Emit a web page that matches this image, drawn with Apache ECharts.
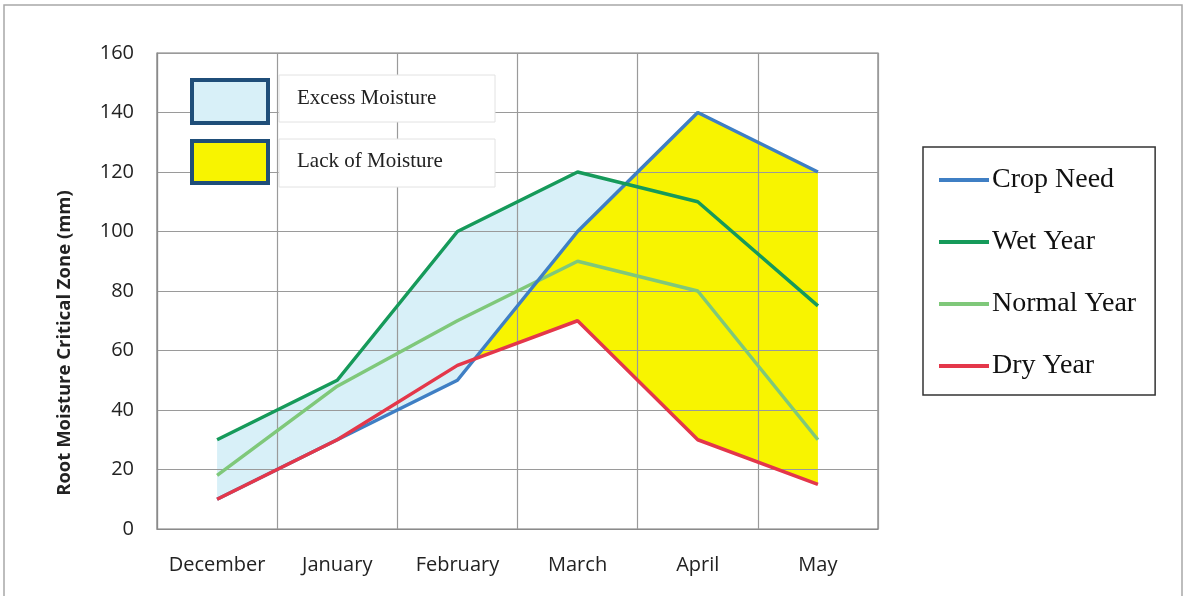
<!DOCTYPE html>
<html>
<head>
<meta charset="utf-8">
<script src="https://cdn.jsdelivr.net/npm/echarts@6/dist/echarts.min.js"></script>
<style>
  html, body { margin: 0; padding: 0; background: #fff; }
  #chart { width: 1187px; height: 596px; }
</style>
</head>
<body>
<div id="chart"></div>
<script>
// Months of the growing season
const months = ['December', 'January', 'February', 'March', 'April', 'May'];

// Root-zone moisture (mm) per month
const cropNeed   = [10, 30, 50, 100, 140, 120];
const wetYear    = [30, 50, 100, 120, 110, 75];
const normalYear = [18, 48, 70, 90, 80, 30];
const dryYear    = [10, 30, 55, 70, 30, 15];

// Y axis scale
const yMin = 0, yMax = 160, yStep = 20;
const yTitle = 'Root Moisture Critical Zone (mm)';

const COLORS = {
  need: '#3f7fc4',
  wet: '#169a5a',
  normal: '#7fc87a',
  dry: '#e4374a',
  excess: '#d8f0f8',
  lack: '#f8f400'
};
const SERIF = '"Liberation Serif", "DejaVu Serif", serif';
const SANS = '"Open Sans", "Noto Sans", "Liberation Sans", sans-serif';

// Polygons of the band where top > bottom, with crossings interpolated in pixel space
function bandPolygons(api, top, bottom) {
  const pt = (i, v) => api.coord([i, v]);
  const polys = [];
  let cur = null;
  for (let i = 0; i < top.length; i++) {
    const d = top[i] - bottom[i];
    if (i > 0) {
      const dp = top[i - 1] - bottom[i - 1];
      if ((dp > 0) !== (d > 0) && dp !== 0 && d !== 0) {
        const t = dp / (dp - d);
        const a = pt(i - 1, top[i - 1]), b = pt(i, top[i]);
        const x = a[0] + t * (b[0] - a[0]);
        const y = a[1] + t * (b[1] - a[1]);
        if (cur) {
          cur.up.push([x, y]); cur.lo.push([x, y]);
          polys.push(cur); cur = null;
        } else {
          cur = { up: [[x, y]], lo: [[x, y]] };
        }
      }
    }
    if (d > 0) {
      if (!cur) cur = { up: [], lo: [] };
      cur.up.push(pt(i, top[i]));
      cur.lo.push(pt(i, bottom[i]));
    }
  }
  if (cur) polys.push(cur);
  return polys.map(c => c.up.concat(c.lo.slice().reverse()));
}

function bandSeries(name, top, bottom, color) {
  return {
    name: name,
    type: 'custom',
    z: 1,
    silent: true,
    data: [[0, 0]],
    renderItem: function (params, api) {
      return {
        type: 'group',
        children: bandPolygons(api, top, bottom).map(p => ({
          type: 'polygon',
          shape: { points: p },
          style: { fill: color }
        }))
      };
    }
  };
}

function lineSeries(name, data, color) {
  return {
    name: name,
    type: 'line',
    z: 4,
    data: data,
    symbol: 'none',
    lineStyle: { color: color, width: 3.5 },
    itemStyle: { color: color },
    emphasis: { disabled: true }
  };
}

const chart = echarts.init(document.getElementById('chart'), null, { renderer: 'canvas' });

chart.setOption({
  animation: false,
  backgroundColor: '#fff',
  grid: {
    left: 157, right: 309, top: 53, bottom: 67,
    show: true, borderColor: '#7a7a7a', borderWidth: 1.2
  },
  xAxis: {
    type: 'category',
    data: months,
    boundaryGap: true,
    z: 2,
    axisLine: { show: true, lineStyle: { color: '#8a8a8a', width: 1.2 } },
    axisTick: { show: false, interval: 0 },
    splitLine: { show: true, interval: 0, lineStyle: { color: '#9a9a9a', width: 1.2 } },
    axisLabel: { interval: 0, hideOverlap: false, color: '#222', fontFamily: SANS, fontSize: 20, margin: 26 }
  },
  yAxis: {
    type: 'value',
    min: yMin, max: yMax, interval: yStep,
    z: 2,
    axisLine: { show: true, lineStyle: { color: '#8a8a8a', width: 1.2 } },
    axisTick: { show: false },
    splitLine: { show: true, lineStyle: { color: '#9a9a9a', width: 1.2 } },
    axisLabel: { color: '#222', fontFamily: SANS, fontSize: 20, margin: 23 }
  },
  legend: {
    data: ['Crop Need', 'Wet Year', 'Normal Year', 'Dry Year'],
    orient: 'vertical',
    left: 923, top: 147,
    padding: [18, 19, 14, 16],
    itemGap: 32,
    itemWidth: 50,
    itemHeight: 4,
    icon: 'rect',
    borderColor: '#333',
    borderWidth: 1.5,
    textStyle: { color: '#111', fontFamily: SERIF, fontSize: 28, lineHeight: 30, padding: [0, 0, 0, -2] }
  },
  graphic: [
    { type: 'rect', silent: true, shape: { x: 4, y: 5, width: 1178, height: 640 },
      style: { fill: 'none', stroke: '#a8a8a8', lineWidth: 1.5 }, z: 0 },
    // Y axis title, set low beside the axis
    { type: 'text', x: 65, y: 343, rotation: Math.PI / 2, z: 11,
      style: { text: yTitle, fill: '#222', font: 'bold 18.5px ' + SANS,
               textAlign: 'center', textVerticalAlign: 'middle' } },
    // Area key, upper left of the plot
    { type: 'rect', shape: { x: 192, y: 80, width: 76, height: 43 },
      style: { fill: COLORS.excess, stroke: '#1f4e79', lineWidth: 4 }, z: 10 },
    { type: 'rect', shape: { x: 192, y: 141, width: 76, height: 42 },
      style: { fill: COLORS.lack, stroke: '#1f4e79', lineWidth: 4 }, z: 10 },
    { type: 'rect', shape: { x: 279, y: 75, width: 216, height: 47 },
      style: { fill: '#fff', stroke: '#e2e2e2', lineWidth: 1 }, z: 10 },
    { type: 'rect', shape: { x: 279, y: 139, width: 216, height: 48 },
      style: { fill: '#fff', stroke: '#e2e2e2', lineWidth: 1 }, z: 10 },
    { type: 'text', x: 297, y: 98, z: 11,
      style: { text: 'Excess Moisture', fill: '#222', font: '21px ' + SERIF, textVerticalAlign: 'middle' } },
    { type: 'text', x: 297, y: 161, z: 11,
      style: { text: 'Lack of Moisture', fill: '#222', font: '21px ' + SERIF, textVerticalAlign: 'middle' } }
  ],
  series: [
    bandSeries('Excess Moisture', wetYear, cropNeed, COLORS.excess),
    bandSeries('Lack of Moisture', cropNeed, dryYear, COLORS.lack),
    lineSeries('Normal Year', normalYear, COLORS.normal),
    lineSeries('Crop Need', cropNeed, COLORS.need),
    lineSeries('Wet Year', wetYear, COLORS.wet),
    lineSeries('Dry Year', dryYear, COLORS.dry)
  ]
});
</script>
</body>
</html>
